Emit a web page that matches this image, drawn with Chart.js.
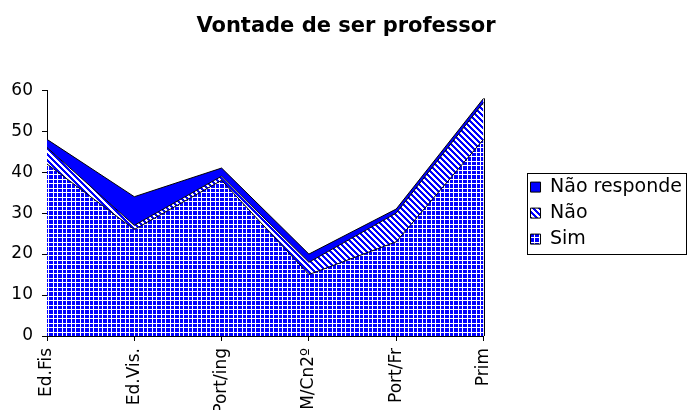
<!DOCTYPE html>
<html>
<head>
<meta charset="utf-8">
<script src="https://cdn.jsdelivr.net/npm/chart.js@4.4.0/dist/chart.umd.min.js"></script>
<style>
  html, body { margin: 0; padding: 0; background: #fff; overflow: hidden; }
  #wrap { width: 687px; height: 410px; }
</style>
</head>
<body>
<div id="wrap"><canvas id="chart" width="687" height="410"></canvas></div>
<script>
const categories = ['Ed.Fis', 'Ed.Vis.', 'Port/ing', 'M/Cn2º', 'Port/Fr', 'Prim'];
const sim = [42, 26, 38, 15, 23, 48];
const nao = [4, 1, 1, 3, 7, 9];
const naoResponde = [2, 7, 2, 2, 1, 1];
const yMin = 0, yMax = 60, yStep = 10;

const BLUE = '#0000ff';
const FONT = "'DejaVu Sans', sans-serif";

// pattern tiles (Excel-like fills)
function gridPattern(ctx){
  const n = 9;
  const c = document.createElement('canvas');
  c.width = n; c.height = n;
  const g = c.getContext('2d');
  g.fillStyle = BLUE; g.fillRect(0, 0, n, n);
  g.fillStyle = '#fff';
  [3, 8].forEach(p => { g.fillRect(p, 0, 1, n); g.fillRect(0, p, n, 1); });
  return ctx.createPattern(c, 'repeat');
}
function stripePattern(ctx){
  const n = 6;
  const c = document.createElement('canvas');
  c.width = n; c.height = n;
  const g = c.getContext('2d');
  for (let x = 0; x < n; x++) for (let y = 0; y < n; y++){
    g.fillStyle = (((x - y) % n + n) % n) < 3 ? BLUE : '#fff';
    g.fillRect(x, y, 1, 1);
  }
  return ctx.createPattern(c, 'repeat');
}

const legendFrame = {
  id: 'legendFrame',
  afterDraw(chart){
    const hb = chart.legend && chart.legend.legendHitBoxes;
    if (!hb || !hb.length) return;
    const ctx = chart.ctx;
    const x0 = Math.min(...hb.map(h => h.left)) - 4;
    const x1 = Math.min(chart.width - 1, Math.max(...hb.map(h => h.left + h.width)) + 4);
    const y0 = Math.min(...hb.map(h => h.top)) - 5;
    const y1 = Math.max(...hb.map(h => h.top + h.height)) + 5;
    ctx.save();
    ctx.strokeStyle = '#000'; ctx.lineWidth = 1;
    ctx.strokeRect(Math.round(x0) + 0.5, Math.round(y0) + 0.5, Math.round(x1 - x0), Math.round(y1 - y0));
    ctx.restore();
  }
};

// closing edge of the area at the last category
const areaEdge = {
  id: 'areaEdge',
  afterDatasetsDraw(chart){
    const xs = chart.scales.x, ys = chart.scales.y;
    const i = categories.length - 1;
    const x = Math.round(xs.getPixelForValue(i)) + 0.5;
    const ctx = chart.ctx;
    ctx.save();
    ctx.strokeStyle = '#000'; ctx.lineWidth = 1;
    ctx.beginPath();
    ctx.moveTo(x, ys.getPixelForValue(0));
    ctx.lineTo(x, ys.getPixelForValue(sim[i] + nao[i] + naoResponde[i]));
    ctx.stroke();
    ctx.restore();
  }
};

const ctx = document.getElementById('chart').getContext('2d');
Chart.defaults.font.family = FONT;
Chart.defaults.color = '#000';

new Chart(ctx, {
  type: 'line',
  data: {
    labels: categories,
    datasets: [
      { label: 'Sim', data: sim, fill: 'origin', backgroundColor: gridPattern(ctx), borderColor: '#000', borderWidth: 1, pointRadius: 0, tension: 0 },
      { label: 'Não', data: nao, fill: '-1', backgroundColor: stripePattern(ctx), borderColor: '#000', borderWidth: 1, pointRadius: 0, tension: 0 },
      { label: 'Não responde', data: naoResponde, fill: '-1', backgroundColor: BLUE, borderColor: '#000', borderWidth: 1, pointRadius: 0, tension: 0 }
    ]
  },
  options: {
    responsive: false,
    animation: false,
    events: [],
    layout: { padding: { left: 0, top: 0, bottom: 0, right: -5 } },
    plugins: {
      title: { display: true, text: 'Vontade de ser professor', color: '#000', font: { size: 21, weight: 'bold' }, padding: { top: 14, bottom: 51 } },
      legend: {
        position: 'right', fullSize: false, reverse: true, align: 'center', maxWidth: 300,
        labels: { boxWidth: 10, boxHeight: 10, padding: 7, color: '#000', font: { size: 19 } }
      },
      tooltip: { enabled: false }
    },
    scales: {
      x: {
        offset: false,
        grid: { drawOnChartArea: false, drawTicks: true, tickLength: 5, color: '#000' },
        border: { color: '#000' },
        ticks: { minRotation: 90, maxRotation: 90, autoSkip: false, color: '#000', font: { size: 17 }, padding: 7 },
        afterFit(s){ s.height = 74; }
      },
      y: {
        stacked: true, min: yMin, max: yMax,
        grid: { drawOnChartArea: false, drawTicks: true, tickLength: 5, color: '#000' },
        border: { color: '#000' },
        ticks: { stepSize: yStep, color: '#000', font: { size: 17 }, padding: 9 },
        afterFit(s){ s.width = 47; }
      },
      y2: {
        type: 'linear', position: 'right',
        grid: { display: false }, border: { display: false }, ticks: { display: false },
        afterFit(s){ s.width = 40; }
      }
    }
  },
  plugins: [legendFrame, areaEdge]
});
</script>
</body>
</html>
